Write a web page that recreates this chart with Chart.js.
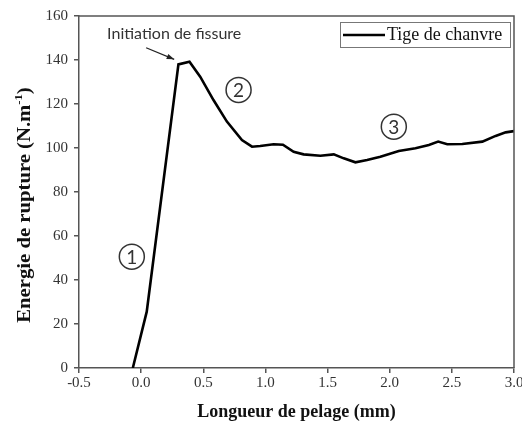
<!DOCTYPE html>
<html>
<head>
<meta charset="utf-8">
<script src="https://cdn.jsdelivr.net/npm/chart.js@4/dist/chart.umd.min.js"></script>
<style>
  html, body { margin: 0; padding: 0; background: #fff; }
  #wrap { width: 522px; height: 425px; }
</style>
</head>
<body>
<div id="wrap"><canvas id="c" width="522" height="425"></canvas></div>
<script>
// ---- data ----
const seriesName = 'Tige de chanvre';
const peelLength = [-0.067, 0.045, 0.30, 0.389, 0.475, 0.582, 0.69, 0.811, 0.892, 0.958, 1.066, 1.141, 1.227, 1.307, 1.442, 1.55, 1.63, 1.724, 1.818, 1.925, 2.073, 2.207, 2.315, 2.39, 2.463, 2.584, 2.745, 2.852, 2.933, 3.0];
const ruptureEnergy = [0, 25.6, 138.0, 139.2, 132.4, 121.8, 112, 103.6, 100.6, 100.9, 101.7, 101.5, 98.3, 97.1, 96.5, 97.1, 95.3, 93.5, 94.5, 96, 98.6, 99.9, 101.4, 102.9, 101.7, 101.8, 102.9, 105.5, 107.1, 107.7];
const xTitle = 'Longueur de pelage (mm)';
const yTitleMain = 'Energie de rupture (N.m';
const yTitleSup = '-1';
const yTitleEnd = ')';
const annotationText = 'Initiation de fissure';
const zoneLabels = ['1', '2', '3'];

const points = peelLength.map((x, i) => ({ x: x, y: ruptureEnergy[i] }));

const AXIS = '#555';
const TXT = '#333';
const SERIF = '"Liberation Serif", "Times New Roman", serif';

const decorPlugin = {
  id: 'decor',
  afterDraw(chart) {
    const ctx = chart.ctx;
    const ca = chart.chartArea;
    const xs = chart.scales.x, ys = chart.scales.y;
    ctx.save();
    // frame top / right
    ctx.strokeStyle = AXIS;
    ctx.lineWidth = 1.5;
    ctx.beginPath();
    ctx.moveTo(ca.left, ca.top);
    ctx.lineTo(ca.right, ca.top);
    ctx.lineTo(ca.right, ca.bottom);
    ctx.stroke();

    // legend
    ctx.strokeStyle = '#777';
    ctx.lineWidth = 1;
    ctx.strokeRect(340.5, 22.5, 170, 25);
    ctx.strokeStyle = '#000';
    ctx.lineWidth = 2.5;
    ctx.beginPath();
    ctx.moveTo(343, 35);
    ctx.lineTo(385, 35);
    ctx.stroke();
    ctx.fillStyle = '#111';
    ctx.font = '18px ' + SERIF;
    ctx.textAlign = 'left';
    ctx.textBaseline = 'middle';
    ctx.fillText(chart.data.datasets[0].label, 387, 35.5);

    // annotation "Initiation de fissure"
    ctx.font = '16px Lato, "Liberation Sans", sans-serif';
    ctx.fillStyle = '#333';
    ctx.textAlign = 'center';
    ctx.fillText(annotationText, xs.getPixelForValue(0.266), ys.getPixelForValue(151.8));
    // arrow
    const ax0 = xs.getPixelForValue(0.04), ay0 = ys.getPixelForValue(145.6);
    const ax1 = xs.getPixelForValue(0.266), ay1 = ys.getPixelForValue(140.3);
    ctx.strokeStyle = '#222';
    ctx.lineWidth = 1.2;
    ctx.beginPath();
    ctx.moveTo(ax0, ay0);
    ctx.lineTo(ax1, ay1);
    ctx.stroke();
    const ang = Math.atan2(ay1 - ay0, ax1 - ax0);
    ctx.fillStyle = '#222';
    ctx.beginPath();
    ctx.moveTo(ax1, ay1);
    ctx.lineTo(ax1 - 8 * Math.cos(ang - 0.35), ay1 - 8 * Math.sin(ang - 0.35));
    ctx.lineTo(ax1 - 8 * Math.cos(ang + 0.35), ay1 - 8 * Math.sin(ang + 0.35));
    ctx.closePath();
    ctx.fill();

    // circled zone numbers
    const zonePos = [[-0.075, 50.6], [0.784, 126.4], [2.033, 109.7]];
    zonePos.forEach((p, i) => {
      const cx = xs.getPixelForValue(p[0]), cy = ys.getPixelForValue(p[1]);
      ctx.strokeStyle = '#333';
      ctx.lineWidth = 1.5;
      ctx.beginPath();
      ctx.arc(cx, cy, 12.5, 0, Math.PI * 2);
      ctx.stroke();
      ctx.fillStyle = '#333';
      ctx.font = '19px Lato, "Liberation Sans", sans-serif';
      ctx.textAlign = 'center';
      ctx.textBaseline = 'middle';
      ctx.fillText(zoneLabels[i], cx, cy + 1);
    });

    // y axis title with superscript
    ctx.fillStyle = '#111';
    ctx.translate(24, 205);
    ctx.rotate(-Math.PI / 2);
    ctx.scale(1.15, 1);
    const fMain = 'bold 18px ' + SERIF;
    const fSup = 'bold 11px ' + SERIF;
    ctx.font = fMain;
    const w1 = ctx.measureText(yTitleMain).width;
    const w3 = ctx.measureText(yTitleEnd).width;
    ctx.font = fSup;
    const w2 = ctx.measureText(yTitleSup).width;
    const total = w1 + w2 + w3;
    let x = -total / 2;
    ctx.textAlign = 'left';
    ctx.textBaseline = 'alphabetic';
    ctx.font = fMain;
    ctx.fillText(yTitleMain, x, 6);
    x += w1;
    ctx.font = fSup;
    ctx.fillText(yTitleSup, x, -2);
    x += w2;
    ctx.font = fMain;
    ctx.fillText(yTitleEnd, x, 6);
    ctx.restore();
  }
};

new Chart(document.getElementById('c'), {
  type: 'scatter',
  data: {
    datasets: [{
      label: seriesName,
      data: points,
      showLine: true,
      borderColor: '#000',
      borderWidth: 2.6,
      pointRadius: 0,
      tension: 0,
      fill: false
    }]
  },
  options: {
    responsive: false,
    devicePixelRatio: 1,
    animation: false,
    layout: { padding: { left: 0, right: 8, top: 16, bottom: 0 } },
    plugins: { legend: { display: false }, tooltip: { enabled: false } },
    scales: {
      x: {
        type: 'linear',
        position: 'bottom',
        min: -0.5,
        max: 3.0,
        ticks: {
          stepSize: 0.5,
          callback: v => Number(v).toFixed(1),
          font: { family: SERIF, size: 15 },
          color: TXT,
          padding: 1,
          maxRotation: 0
        },
        grid: { drawOnChartArea: false, tickLength: 5, color: AXIS, lineWidth: 1.5 },
        border: { color: AXIS, width: 1.5 },
        title: {
          display: true,
          text: xTitle,
          font: { family: SERIF, size: 18, weight: 'bold' },
          color: '#111',
          padding: { top: 0, bottom: 2 }
        },
        afterFit: s => { s.height = 57; s.paddingLeft = 0; s.paddingRight = 0; }
      },
      y: {
        min: 0,
        max: 160,
        ticks: {
          stepSize: 20,
          font: { family: SERIF, size: 15 },
          color: TXT,
          padding: 6
        },
        grid: { drawOnChartArea: false, tickLength: 5, color: AXIS, lineWidth: 1.5 },
        border: { color: AXIS, width: 1.5 },
        afterFit: s => { s.width = 79; s.paddingTop = 0; s.paddingBottom = 0; }
      }
    }
  },
  plugins: [decorPlugin]
});
</script>
</body>
</html>
